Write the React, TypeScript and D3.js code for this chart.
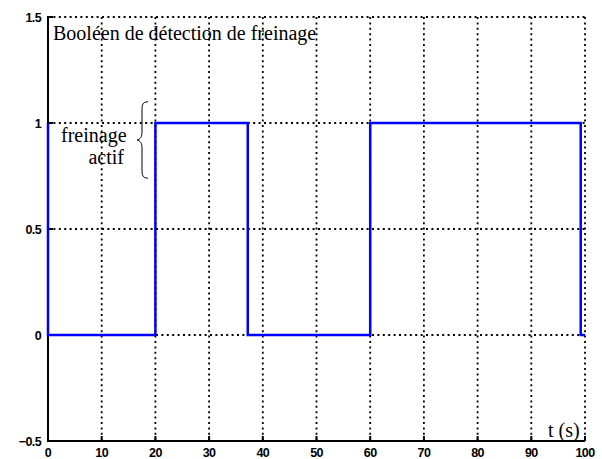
import React from "react";
import * as d3 from "d3";

// Braking detection boolean over time (step signal)
const switchTimes = [0, 0, 20, 37.2, 60, 99.2, 100];
const switchValues = [1, 0, 1, 0, 1, 0, 0];

const xTicks = [0, 10, 20, 30, 40, 50, 60, 70, 80, 90, 100];
const yTicks = [-0.5, 0, 0.5, 1, 1.5];
const yTickLabels = ["\u22120.5", "0", "0.5", "1", "1.5"];

const W = 602;
const H = 459;
const left = 48;
const right = 585;
const top = 17;
const bottom = 441;

export default function App() {
  const x = d3.scaleLinear().domain([0, 100]).range([left, right]);
  const y = d3.scaleLinear().domain([-0.5, 1.5]).range([bottom, top]);

  const pts: [number, number][] = switchTimes.map((t, i) => [t, switchValues[i]]);
  const line = d3
    .line<[number, number]>()
    .x((d) => x(d[0]))
    .y((d) => y(d[1]))
    .curve(d3.curveStepAfter);

  const tickFont = "'Liberation Sans', Arial, sans-serif";
  const serif = "'Liberation Serif', 'Times New Roman', serif";
  const dash = "2 3.4";

  // brace spanning the "active braking" level
  const braceTop = y(1.1);
  const braceBot = y(0.74);
  const braceMid = (braceTop + braceBot) / 2;

  return (
    <svg
      width={W}
      height={H}
      style={{ position: "absolute", left: 0, top: 0, background: "#fff" }}
    >
      <rect x={0} y={0} width={W} height={H} fill="#fff" />
      {/* grid */}
      {xTicks
        .filter((t) => t > 0)
        .map((t) => (
          <line
            key={"gx" + t}
            x1={x(t)}
            x2={x(t)}
            y1={top}
            y2={bottom}
            stroke="#000"
            strokeWidth={1.8}
            strokeDasharray={dash}
          />
        ))}
      {yTicks
        .filter((t) => t > -0.5)
        .map((t) => (
          <line
            key={"gy" + t}
            x1={left}
            x2={right}
            y1={y(t)}
            y2={y(t)}
            stroke="#000"
            strokeWidth={1.8}
            strokeDasharray={dash}
          />
        ))}
      {/* axes */}
      <line x1={left} x2={left} y1={top - 1} y2={bottom + 1} stroke="#000" strokeWidth={2} />
      <line x1={left - 1} x2={right} y1={bottom} y2={bottom} stroke="#000" strokeWidth={2} />
      {xTicks.map((t) => (
        <line key={"tx" + t} x1={x(t)} x2={x(t)} y1={bottom} y2={bottom - 5} stroke="#000" strokeWidth={2} />
      ))}
      {yTicks.map((t) => (
        <line key={"ty" + t} x1={left} x2={left + 5} y1={y(t)} y2={y(t)} stroke="#000" strokeWidth={2} />
      ))}
      {/* tick labels */}
      {xTicks.map((t) => (
        <text
          key={"lx" + t}
          x={x(t)}
          y={456.5}
          textAnchor="middle"
          fontFamily={tickFont}
          fontWeight="bold"
          fontSize={12.5}
          letterSpacing={-0.6}
        >
          {t}
        </text>
      ))}
      {yTicks.map((t, i) => (
        <text
          key={"ly" + t}
          x={41}
          y={y(t) + 4.5}
          textAnchor="end"
          fontFamily={tickFont}
          fontWeight="bold"
          fontSize={12.5}
          letterSpacing={-0.6}
        >
          {yTickLabels[i]}
        </text>
      ))}
      {/* signal */}
      <path d={line(pts) ?? ""} fill="none" stroke="#0000ff" strokeWidth={2.5} />
      {/* annotations */}
      <text x={53} y={40} fontFamily={serif} fontSize={20} fill="#000">
        Booléen de détection de freinage
      </text>
      <text x={61} y={142} fontFamily={serif} fontSize={20} fill="#000">
        freinage
      </text>
      <text x={124} y={163.5} fontFamily={serif} fontSize={20} fill="#000" textAnchor="end">
        actif
      </text>
      <path
        d={`M148,${braceTop} C142.5,${braceTop} 142,${braceTop + 3} 142,${braceTop + 9} L142,${braceMid - 8} C142,${braceMid - 3} 140.5,${braceMid - 1} 137,${braceMid} C140.5,${braceMid + 1} 142,${braceMid + 3} 142,${braceMid + 8} L142,${braceBot - 9} C142,${braceBot - 3} 142.5,${braceBot} 148,${braceBot}`}
        fill="none"
        stroke="#000"
        strokeWidth={1}
      />
      <text x={548} y={437} fontFamily={serif} fontSize={20} fill="#000">
        t (s)
      </text>
    </svg>
  );
}
